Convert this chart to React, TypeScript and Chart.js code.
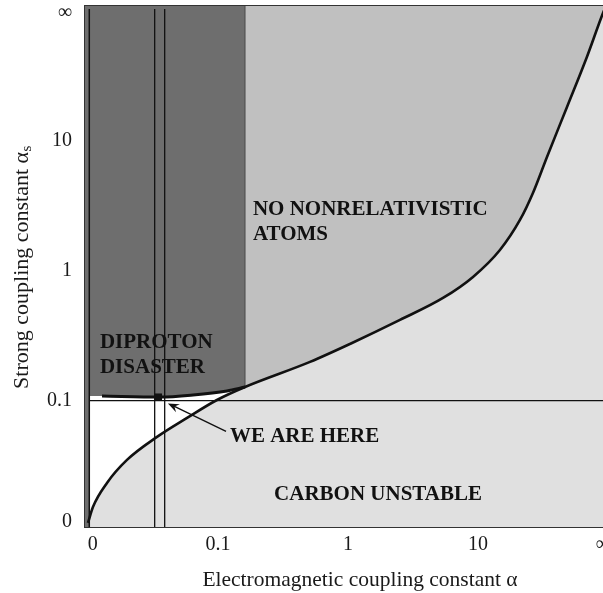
import React, { useEffect, useRef } from 'react';
import { Chart, registerables } from 'chart.js';

Chart.register(...registerables);

// Both axes use the same compressed scale: 0, 0.1, 1, 10, ∞ (0.1 -> 1, 1 -> 2, 10 -> 3)
const tickLabels = ['0', '0.1', '1', '10', '∞'];
const xTickPos = [0.036, 1, 2, 3, 3.96];
const yTickPos = [0.067, 1, 2, 3, 3.985];
const X_MIN = -0.023;
const X_MAX = 3.985;
const Y_MIN = 0.028;
const Y_MAX = 4.036;

const xTitle = 'Electromagnetic coupling constant α';
const yTitle = 'Strong coupling constant α';
const yTitleSub = 's';

// Boundary of the "carbon unstable" region
const mainCurveX = [0.0, 0.038, 0.146, 0.3, 0.531, 0.762, 0.992, 1.208, 1.708, 2.015, 2.4, 2.731, 2.962, 3.169, 3.323, 3.423, 3.531, 3.685, 3.838, 3.962, 3.985];
const mainCurveY = [0.059, 0.182, 0.367, 0.544, 0.721, 0.867, 1.005, 1.105, 1.298, 1.436, 1.621, 1.79, 1.952, 2.159, 2.39, 2.598, 2.875, 3.259, 3.644, 3.982, 4.036];

// Diproton-disaster boundary (thick line)
const diprotonX = [0.108, 0.554, 0.808, 1.069, 1.208];
const diprotonY = [1.036, 1.028, 1.044, 1.075, 1.105];

// Extent of the diproton-disaster region and the white pocket below it
const diprotonRegionX = [X_MIN, 0.01, 0.108, 0.554, 0.808, 1.069, 1.208];
const diprotonRegionY = [1.036, 1.036, 1.036, 1.028, 1.044, 1.075, 1.105];
const pocketX = [0.01, 0.108, 0.554, 0.808, 1.069, 1.208];
const pocketY = [1.036, 1.036, 1.028, 1.044, 1.075, 1.105];

// alpha = 0 strip
const stripX = [X_MIN, 0.01];
const stripY = [Y_MAX, Y_MAX];
const stripLineX = 0.01;

const diprotonEdgeX = 1.208;
const diprotonEdgeYFrom = 1.105;

// alpha_s = 0.1 line and the alpha bounds
const alphaSLine = 1;
const alphaLowX = 0.513;
const alphaHighX = 0.59;

// "We are here"
const hereX = [0.542];
const hereY = [1.028];

const arrowFrom = [1.062, 0.763];
const arrowTo = [0.615, 0.979];

const regionLabels = [
  { lines: ['DIPROTON', 'DISASTER'], x: 0.092, y: 1.444, align: 'left' },
  { lines: ['NO NONRELATIVISTIC', 'ATOMS'], x: 1.269, y: 2.467, align: 'left' },
  { lines: ['WE ARE HERE'], x: 1.092, y: 0.721, align: 'left' },
  { lines: ['CARBON UNSTABLE'], x: 2.231, y: 0.274, align: 'center' },
];

const DARK = '#6e6e6e';
const MID = '#c0c0c0';
const LIGHT = '#e0e0e0';
const INK = '#111111';
const TXT = '#1a1a1a';
const FONT = '"Liberation Serif", "Times New Roman", "DejaVu Serif", serif';

const pts = (xs: number[], ys: number[]) => xs.map((x, i) => ({ x, y: ys[i] }));

const annotPlugin = {
  id: 'annot',
  afterDatasetsDraw(chart: any) {
    const { ctx } = chart;
    const xs = chart.scales.x;
    const ys = chart.scales.y;
    ctx.save();
    const x1 = xs.getPixelForValue(arrowFrom[0]);
    const y1 = ys.getPixelForValue(arrowFrom[1]);
    const x2 = xs.getPixelForValue(arrowTo[0]);
    const y2 = ys.getPixelForValue(arrowTo[1]);
    const ang = Math.atan2(y2 - y1, x2 - x1);
    ctx.strokeStyle = INK;
    ctx.fillStyle = INK;
    ctx.lineWidth = 1.4;
    ctx.beginPath();
    ctx.moveTo(x1, y1);
    ctx.lineTo(x2 - 6 * Math.cos(ang), y2 - 6 * Math.sin(ang));
    ctx.stroke();
    const hl = 12;
    const hw = 0.38;
    ctx.beginPath();
    ctx.moveTo(x2, y2);
    ctx.lineTo(x2 - hl * Math.cos(ang - hw), y2 - hl * Math.sin(ang - hw));
    ctx.lineTo(x2 - 0.6 * hl * Math.cos(ang), y2 - 0.6 * hl * Math.sin(ang));
    ctx.lineTo(x2 - hl * Math.cos(ang + hw), y2 - hl * Math.sin(ang + hw));
    ctx.closePath();
    ctx.fill();
    ctx.font = `bold 21px ${FONT}`;
    ctx.textBaseline = 'middle';
    ctx.fillStyle = INK;
    regionLabels.forEach((l) => {
      const px = xs.getPixelForValue(l.x);
      const py = ys.getPixelForValue(l.y);
      ctx.textAlign = l.align as CanvasTextAlign;
      l.lines.forEach((t, i) => ctx.fillText(t, px, py + i * 25));
    });
    ctx.restore();
  },
  afterDraw(chart: any) {
    const { ctx, chartArea } = chart;
    ctx.save();
    ctx.fillStyle = TXT;
    ctx.textBaseline = 'middle';
    ctx.font = `21.5px ${FONT}`;
    ctx.textAlign = 'center';
    ctx.fillText(xTitle, chartArea.left + 275, chart.height - 13);
    ctx.translate(22, (chartArea.top + chartArea.bottom) / 2 + 1);
    ctx.rotate(-Math.PI / 2);
    ctx.font = `22px ${FONT}`;
    const w1 = ctx.measureText(yTitle).width;
    ctx.font = `15px ${FONT}`;
    const w2 = ctx.measureText(yTitleSub).width;
    const start = -(w1 + w2) / 2;
    ctx.textAlign = 'left';
    ctx.font = `22px ${FONT}`;
    ctx.fillText(yTitle, start, 0);
    ctx.font = `15px ${FONT}`;
    ctx.fillText(yTitleSub, start + w1 + 0.5, 5);
    ctx.restore();
  },
};

export default function App() {
  const ref = useRef<HTMLCanvasElement>(null);
  useEffect(() => {
    const canvas = ref.current!;
    const lineDs = (data: any[], color: string, width: number, order: number) => ({
      data,
      borderColor: color,
      borderWidth: width,
      backgroundColor: color,
      fill: false,
      pointRadius: 0,
      tension: 0,
      order,
    });
    const mainPts = pts(mainCurveX, mainCurveY);
    const chart = new Chart(canvas, {
      type: 'line',
      data: {
        datasets: [
          { data: mainPts, borderWidth: 0, borderColor: 'rgba(0,0,0,0)', backgroundColor: LIGHT, fill: 'start', pointRadius: 0, order: 30, cubicInterpolationMode: 'monotone' },
          { data: mainPts, borderWidth: 0, borderColor: 'rgba(0,0,0,0)', backgroundColor: MID, fill: 'end', pointRadius: 0, order: 29, cubicInterpolationMode: 'monotone' },
          { data: pts(pocketX, pocketY), borderWidth: 0, borderColor: 'rgba(0,0,0,0)', backgroundColor: '#ffffff', fill: { target: 0, above: '#ffffff', below: '#ffffff' }, pointRadius: 0, order: 28 },
          { data: pts(diprotonRegionX, diprotonRegionY), borderWidth: 0, borderColor: 'rgba(0,0,0,0)', backgroundColor: DARK, fill: 'end', pointRadius: 0, order: 27 },
          { data: pts(stripX, stripY), borderWidth: 0, borderColor: 'rgba(0,0,0,0)', backgroundColor: DARK, fill: 'start', pointRadius: 0, order: 26 },
          lineDs([{ x: diprotonEdgeX, y: diprotonEdgeYFrom }, { x: diprotonEdgeX, y: Y_MAX }], '#4a4a4a', 1, 20),
          lineDs([{ x: stripLineX, y: alphaSLine }, { x: X_MAX, y: alphaSLine }], INK, 1.2, 19),
          lineDs([{ x: alphaLowX, y: Y_MIN }, { x: alphaLowX, y: 4.012 }], INK, 1.3, 18),
          lineDs([{ x: alphaHighX, y: Y_MIN }, { x: alphaHighX, y: 4.012 }], INK, 1.3, 17),
          lineDs([{ x: stripLineX, y: Y_MIN }, { x: stripLineX, y: 4.012 }], INK, 1.5, 16),
          { ...lineDs(mainPts, INK, 2.6, 10), cubicInterpolationMode: 'monotone' },
          { ...lineDs(pts(diprotonX, diprotonY), INK, 3, 9), cubicInterpolationMode: 'monotone' },
          { data: pts(hereX, hereY), showLine: false, pointStyle: 'rect', pointRadius: 5, pointBackgroundColor: INK, pointBorderColor: INK, pointBorderWidth: 0, order: 1 },
        ] as any,
      },
      options: {
        animation: false,
        responsive: false,
        maintainAspectRatio: false,
        events: [],
        layout: { padding: { left: 0, right: 0, top: 6, bottom: 0 } },
        plugins: { legend: { display: false }, tooltip: { enabled: false }, title: { display: false } },
        scales: {
          x: {
            type: 'linear',
            min: X_MIN,
            max: X_MAX,
            position: 'bottom',
            grid: { display: false, drawTicks: false },
            border: { display: true, color: '#333', width: 2 },
            ticks: {
              autoSkip: false,
              maxRotation: 0,
              padding: 6,
              color: TXT,
              font: { family: FONT, size: 20 },
              callback: (_v: any, i: number) => tickLabels[i],
            },
            afterBuildTicks: (s: any) => {
              s.ticks = xTickPos.map((v) => ({ value: v }));
            },
            afterFit: (s: any) => {
              s.height = 66;
              s.paddingLeft = 0;
              s.paddingRight = 0;
            },
            title: { display: false },
          },
          xTop: {
            type: 'linear',
            min: X_MIN,
            max: X_MAX,
            position: 'top',
            grid: { display: false, drawTicks: false },
            border: { display: true, color: '#333', width: 2 },
            ticks: { display: false },
            afterFit: (s: any) => {
              s.height = 0;
              s.paddingLeft = 0;
              s.paddingRight = 0;
            },
          },
          y: {
            type: 'linear',
            min: Y_MIN,
            max: Y_MAX,
            position: 'left',
            grid: { display: false, drawTicks: false },
            border: { display: true, color: '#333', width: 2 },
            ticks: {
              autoSkip: false,
              padding: 13,
              color: TXT,
              font: { family: FONT, size: 20 },
              callback: (_v: any, i: number) => tickLabels[i],
            },
            afterBuildTicks: (s: any) => {
              s.ticks = yTickPos.map((v) => ({ value: v }));
            },
            afterFit: (s: any) => {
              s.width = 85;
              s.paddingTop = 0;
              s.paddingBottom = 0;
            },
            title: { display: false },
          },
        },
      } as any,
      plugins: [annotPlugin],
    });
    return () => chart.destroy();
  }, []);
  return (
    <div style={{ position: 'fixed', left: 0, top: 0, width: 603, height: 593, background: '#fff', overflow: 'hidden' }}>
      <canvas ref={ref} width={611} height={593} style={{ display: 'block', width: 611, height: 593 }} />
    </div>
  );
}
